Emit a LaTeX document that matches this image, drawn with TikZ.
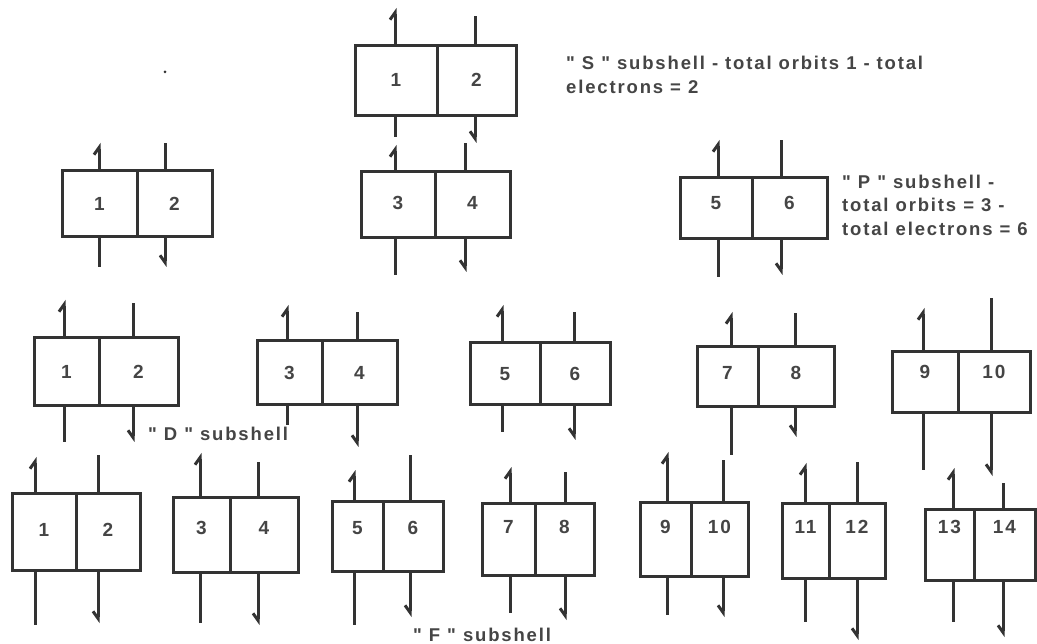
\documentclass[tikz,border=0pt]{standalone}
\usepackage{fontspec}
\setmainfont{Liberation Sans}[LetterSpace=10]
\usetikzlibrary{arrows.meta}
\definecolor{ink}{gray}{0.2}
\definecolor{txt}{gray}{0.27}
\newcommand\q{\textquotedbl}
\tikzset{
  box/.style={draw=ink, line width=3pt, inner sep=0pt, outer sep=0pt},
  num/.style={text=txt, font=\bfseries\fontsize{19}{22}\selectfont, inner sep=0pt},
  lab/.style={text=txt, font=\bfseries\fontsize{18.5}{22}\selectfont, inner sep=0pt, anchor=base west},
  ln/.style={draw=ink, line width=3pt},
  upspin/.style={ln, -{Straight Barb[left,length=7pt,width=10pt]}},
  downspin/.style={ln, -{Straight Barb[right,length=7pt,width=10pt]}},
}
% name, xL, xD, xR, yT, yB, yNum, n1, n2
\newcommand\orb[9]{%
  \node[box, minimum width={#3pt-#2pt}, minimum height={#6pt-#5pt}] (#1a) at ({(#2+#3)/2},{(#5+#6)/2}) {};
  \node[box, minimum width={#4pt-#3pt}, minimum height={#6pt-#5pt}] (#1b) at ({(#3+#4)/2},{(#5+#6)/2}) {};
  \node[num] (#1n1) at ({(#2+#3)/2},#7) {#8};
  \node[num] (#1n2) at ({(#3+#4)/2},#7) {#9};
  \def\curT{#5}\def\curB{#6}}
% xl, ylTop, ylBot, xr, yrTop, yrBot
\newcommand\spins[6]{%
  \draw[upspin] (#1,\curT) -- (#1,#2);
  \draw[ln] (#1,\curB) -- (#1,#3);
  \draw[ln] (#4,\curT) -- (#4,#5);
  \draw[downspin] (#4,\curB) -- (#4,#6);}
\begin{document}
\begin{tikzpicture}[x=1pt,y=-1pt]
\useasboundingbox (0,0) rectangle (1037,644);
\fill[white] (0,0) rectangle (1037,644);
\fill[ink] (165,72) circle (1.5);
% S subshell
\orb{s}{355}{437}{516}{46}{116}{80}{1}{2}
\spins{395}{8}{137}{475}{16}{143}
\node[lab] (st1) at (566,70) {\q\ S \q\ subshell - total orbits 1 - total};
\node[lab] (st2) at (566,94) {electrons = 2};
% P subshell
\orb{pa}{62}{137}{212}{171}{237}{204}{1}{2}
\spins{99}{143}{267}{165}{143}{267}
\orb{pb}{361}{435}{510}{172}{238}{203}{3}{4}
\spins{395}{145}{275}{465}{143}{272}
\orb{pc}{680}{752}{827}{178}{239}{203}{5}{6}
\spins{718}{140}{277}{781}{140}{275}
\node[lab] (pt1) at (842,189) {\q\ P \q\ subshell -};
\node[lab] (pt2) at (842,212) {total orbits = 3 -};
\node[lab] (pt3) at (842,236) {total electrons = 6};
% D subshell
\orb{da}{34}{99}{178}{338}{406}{372}{1}{2}
\spins{64}{300}{442}{133}{303}{442}
\orb{db}{257}{322}{397}{341}{405}{373}{3}{4}
\spins{287}{305}{425}{357}{312}{447}
\orb{dc}{470}{540}{610}{343}{405}{374}{5}{6}
\spins{502}{305}{432}{574}{312}{440}
\orb{dd}{697}{758}{834}{347}{407}{373}{7}{8}
\spins{731}{312}{455}{795}{313}{437}
\orb{de}{892}{958}{1030}{352}{413}{372}{9}{10}
\spins{923}{308}{470}{991}{298}{476}
\node[lab] (dt) at (148,441) {\q\ D \q\ subshell};
% F subshell
\orb{fa}{12}{76}{140}{493}{570}{530}{1}{2}
\spins{35}{457}{625}{98}{455}{623}
\orb{fb}{173}{230}{298}{497}{572}{528}{3}{4}
\spins{200}{453}{623}{258}{462}{625}
\orb{fc}{332}{383}{443}{501}{571}{528}{5}{6}
\spins{354}{470}{625}{410}{455}{617}
\orb{fd}{482}{535}{594}{503}{575}{527}{7}{8}
\spins{510}{467}{613}{565}{472}{620}
\orb{fe}{640}{691}{748}{502}{576}{527}{9}{10}
\spins{667}{452}{615}{723}{460}{617}
\orb{ff}{782}{829}{885}{503}{578}{527}{11}{12}
\spins{805}{463}{622}{857}{462}{640}
\orb{fg}{925}{974}{1035}{509}{580}{527}{13}{14}
\spins{953}{468}{622}{1003}{483}{637}
\node[lab] (ft) at (413,641) {\q\ F \q\ subshell};
\end{tikzpicture}
\end{document}
